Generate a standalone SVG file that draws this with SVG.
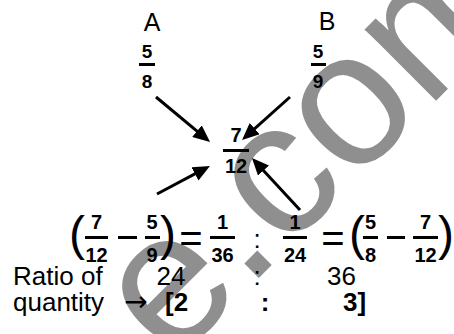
<svg xmlns="http://www.w3.org/2000/svg" width="454" height="334" viewBox="0 0 454 334">
<defs>
<style>
.wm{font-family:"Liberation Sans",Arial,sans-serif;font-size:191px;fill:#8f8f8f}
.lbl{font-family:"Liberation Sans",Arial,sans-serif;font-size:25px;fill:#000}
.txt{font-family:"Liberation Sans",Arial,sans-serif;font-size:26px;fill:#000}
.fr{font-family:"Liberation Sans",Arial,sans-serif;font-size:19px;font-weight:bold;fill:#000;text-anchor:middle}
.eq{font-family:"Liberation Sans",Arial,sans-serif;font-size:20px;font-weight:bold;fill:#000;text-anchor:middle}
.par{font-family:"Liberation Sans",Arial,sans-serif;font-size:48px;fill:#000;text-anchor:middle}
.sym{font-family:"Liberation Sans",Arial,sans-serif;font-size:40px;fill:#000;text-anchor:middle}
.bar{fill:#000}
.b{font-weight:bold}
.conn line{stroke:#000;stroke-width:3}
</style>
<marker id="ah" markerUnits="userSpaceOnUse" markerWidth="17" markerHeight="15" viewBox="0 0 17 15" refX="9" refY="7.5" orient="auto">
<path d="M0,0 L17,7.5 L0,15 z" fill="#000"/>
</marker>
</defs>
<rect width="454" height="334" fill="#fff"/>
<text class="wm" x="171.4" y="365.4" transform="rotate(-45 171.4 365.4)">e.com</text>

<g id="nodeA">
<text class="lbl" x="152" y="31" text-anchor="middle">A</text>
<text class="fr" x="147" y="58">5</text>
<rect class="bar" x="139" y="63" width="16" height="3"/>
<text class="fr" x="147" y="88">8</text>
</g>
<g id="nodeB">
<text class="lbl" x="327" y="30" text-anchor="middle">B</text>
<text class="fr" x="318" y="58">5</text>
<rect class="bar" x="311" y="63" width="15" height="3"/>
<text class="fr" x="318" y="88">9</text>
</g>
<g id="nodeMix">
<text class="eq" x="236" y="142">7</text>
<rect class="bar" x="223" y="149" width="26" height="3"/>
<text class="eq" x="236" y="173">12</text>
</g>

<g id="connectors" class="conn">
<line x1="156" y1="97" x2="203.9" y2="136.9" marker-end="url(#ah)"/>
<line x1="290" y1="97" x2="248" y2="134.7" marker-end="url(#ah)"/>
<line x1="157" y1="194" x2="202.9" y2="169.7" marker-end="url(#ah)"/>
<line x1="300" y1="210" x2="257.4" y2="163.9" marker-end="url(#ah)"/>
</g>

<g id="equation">
<text class="par" x="77" y="250">(</text>
<text class="eq" x="96.5" y="229">7</text>
<rect class="bar" x="85" y="236" width="23" height="3"/>
<text class="eq" x="96.5" y="262">12</text>
<rect class="bar" x="118" y="236" width="19" height="3"/>
<text class="eq" x="152" y="229">5</text>
<rect class="bar" x="145" y="236" width="15" height="3"/>
<text class="eq" x="152" y="262">9</text>
<text class="par" x="168" y="250">)</text>
<text class="sym" x="191" y="252">=</text>
<text class="eq" x="222.5" y="229">1</text>
<rect class="bar" x="210" y="236" width="25" height="3"/>
<text class="eq" x="222.5" y="262">36</text>
<text class="txt" x="257" y="248" text-anchor="middle">:</text>
<text class="eq" x="295" y="229">1</text>
<rect class="bar" x="283" y="236" width="24" height="3"/>
<text class="eq" x="295" y="262">24</text>
<text class="sym" x="333" y="252">=</text>
<text class="par" x="357" y="250">(</text>
<text class="eq" x="370.5" y="229">5</text>
<rect class="bar" x="363" y="236" width="15" height="3"/>
<text class="eq" x="370.5" y="262">8</text>
<rect class="bar" x="387" y="236" width="18" height="3"/>
<text class="eq" x="425.5" y="229">7</text>
<rect class="bar" x="413" y="236" width="25" height="3"/>
<text class="eq" x="425.5" y="262">12</text>
<text class="par" x="446" y="250">)</text>
</g>

<g id="ratio">
<text class="txt" x="13" y="285">Ratio of</text>
<text class="txt" x="171" y="285" text-anchor="middle">24</text>
<text class="txt" x="257" y="285" text-anchor="middle">:</text>
<text class="txt" x="341.5" y="285" text-anchor="middle">36</text>
<text class="txt" x="13" y="311">quantity</text>
<text class="txt" x="136" y="311" text-anchor="middle" style="font-family:'DejaVu Sans',sans-serif;font-size:28px">→</text>
<text class="txt b" x="165" y="311">[2</text>
<text class="txt b" x="265" y="311" text-anchor="middle">:</text>
<text class="txt b" x="343" y="311">3]</text>
</g>
</svg>
